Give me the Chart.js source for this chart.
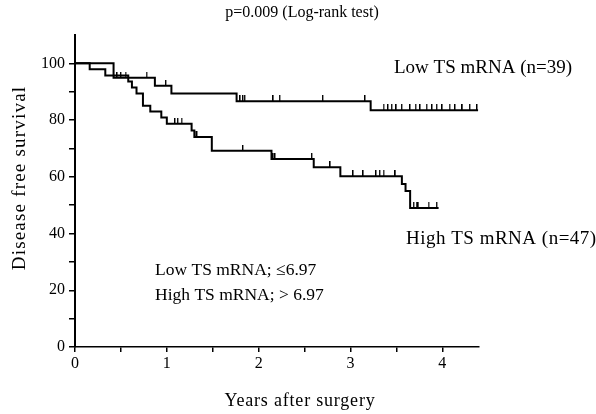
<!DOCTYPE html>
<html>
<head>
<meta charset="utf-8">
<script src="https://cdn.jsdelivr.net/npm/chart.js@4.4.1/dist/chart.umd.min.js"></script>
<style>
  html, body { margin: 0; padding: 0; background: #fff; }
  #wrap { position: relative; width: 596px; height: 414px; }
</style>
</head>
<body>
<div id="wrap"><canvas id="chartDFS" width="596" height="414"></canvas></div>
<script>
// ── DATOS: curvas de Kaplan-Meier (años, % libre de enfermedad) ──
const lowTimes = [0, 0.42, 0.87, 1.05, 1.76, 3.22, 4.39];
const lowSurv = [100, 94.9, 92.1, 89.4, 86.6, 83.5, 83.5];
const lowCensored = [0.46, 0.50, 0.55, 0.78, 0.99, 1.80, 1.83, 1.85, 2.16, 2.23, 2.70, 3.16,
    3.36, 3.41, 3.45, 3.50, 3.56, 3.65, 3.71, 3.76, 3.83, 3.89, 3.94, 4.00, 4.08, 4.14,
    4.22, 4.30, 4.38];

const highTimes = [0, 0.16, 0.33, 0.58, 0.62, 0.67, 0.74, 0.82, 0.94, 1.00, 1.27, 1.30,
    1.49, 2.14, 2.60, 2.89, 3.56, 3.60, 3.65, 3.96];
const highSurv = [100, 97.9, 95.7, 93.6, 91.5, 89.4, 85.1, 83.0, 80.9, 78.7, 76.3, 74.0,
    69.2, 66.3, 63.4, 60.2, 57.5, 55.0, 49.0, 49.0];
const highCensored = [1.09, 1.12, 1.16, 1.31, 1.33, 1.83, 2.16, 2.18, 2.58, 2.78, 3.03, 3.14,
    3.28, 3.32, 3.36, 3.49, 3.69, 3.72, 3.74, 3.85, 3.94];

const yTickValues = [0, 10, 20, 30, 40, 50, 60, 70, 80, 90, 100];
const yTickLabels = [0, 20, 40, 60, 80, 100];
const xTickValues = [0, 0.5, 1, 1.5, 2, 2.5, 3, 3.5, 4];
const xTickLabels = [0, 1, 2, 3, 4];

const FONT = "'Liberation Serif', 'DejaVu Serif', serif";

// valor de la curva escalonada en el tiempo t
function survAt(times, surv, t) {
    let v = surv[0];
    for (let i = 0; i < times.length; i++) {
        if (times[i] <= t) v = surv[i];
    }
    return v;
}

const toPoints = (times, surv) => times.map((t, i) => ({ x: t, y: surv[i] }));
const toCensor = (times, surv, cens) => cens.map(t => ({ x: t, y: survAt(times, surv, t) }));

// marca de censura: trazo vertical hacia arriba
function censorMark() {
    const c = document.createElement("canvas");
    c.width = 2; c.height = 12;
    const g = c.getContext("2d");
    g.fillStyle = "#000";
    g.fillRect(0, 0, 1.4, 6);
    return c;
}
const MARK = censorMark();

// textos sueltos: título, rótulos de ejes y leyendas de grupo
const textos = {
    id: "textos",
    afterDraw(chart) {
        const ctx = chart.ctx;
        ctx.save();
        ctx.fillStyle = "#000";
        ctx.textBaseline = "middle";
        ctx.textAlign = "center";
        ctx.font = "16px " + FONT;
        ctx.fillText("p=0.009 (Log-rank test)", 302, 13);
        ctx.font = "18px " + FONT;
        ctx.letterSpacing = "0.8px";
        ctx.fillText("Years after surgery", 300, 401);

        ctx.textAlign = "left";
        ctx.letterSpacing = "0px";
        ctx.font = "19px " + FONT;
        ctx.fillText("Low TS mRNA (n=39)", 394, 68);
        ctx.letterSpacing = "0.5px";
        ctx.fillText("High TS mRNA (n=47)", 406, 239);
        ctx.letterSpacing = "0px";
        ctx.font = "17.5px " + FONT;
        ctx.fillText("Low TS mRNA; \u22646.97", 155, 270);
        ctx.fillText("High TS mRNA; > 6.97", 155, 295);

        ctx.font = "19px " + FONT;
        ctx.letterSpacing = "1.2px";
        ctx.translate(20, 178);
        ctx.rotate(-Math.PI / 2);
        ctx.textAlign = "center";
        ctx.fillText("Disease free survival", 0, 0);
        ctx.restore();
    }
};

const lineDs = (pts) => ({
    type: "line", data: pts, stepped: true, borderColor: "#000", borderWidth: 2,
    pointRadius: 0, fill: false
});
const censorDs = (pts) => ({
    type: "scatter", data: pts, pointStyle: MARK, pointRadius: 6, showLine: false
});

new Chart(document.getElementById("chartDFS"), {
    type: "line",
    data: {
        datasets: [
            lineDs(toPoints(lowTimes, lowSurv)),
            censorDs(toCensor(lowTimes, lowSurv, lowCensored)),
            lineDs(toPoints(highTimes, highSurv)),
            censorDs(toCensor(highTimes, highSurv, highCensored))
        ]
    },
    options: {
        responsive: false,
        animation: false,
        layout: { padding: { left: 0, right: 117, top: 35, bottom: 37 } },
        plugins: { legend: { display: false }, tooltip: { enabled: false } },
        scales: {
            x: {
                type: "linear", min: 0, max: 4.4,
                afterFit: s => { s.height = 30; },
                afterBuildTicks: s => { s.ticks = xTickValues.map(v => ({ value: v })); },
                ticks: {
                    color: "#000", padding: 2, maxRotation: 0, autoSkip: false,
                    font: { family: FONT, size: 16 },
                    callback: v => xTickLabels.includes(v) ? String(v) : ""
                },
                grid: { drawOnChartArea: false, drawTicks: true, tickLength: 5, color: "#000", lineWidth: 1.5 },
                border: { display: true, color: "#000", width: 1.5 }
            },
            y: {
                type: "linear", min: 0, max: 110,
                afterFit: s => { s.width = 75; },
                afterBuildTicks: s => { s.ticks = yTickValues.map(v => ({ value: v })); },
                ticks: {
                    color: "#000", padding: 4, autoSkip: false,
                    font: { family: FONT, size: 16 },
                    callback: v => yTickLabels.includes(v) ? String(v) : ""
                },
                grid: { drawOnChartArea: false, drawTicks: true, tickLength: 6, color: "#000", lineWidth: 1.5 },
                border: { display: true, color: "#000", width: 2 }
            }
        }
    },
    plugins: [textos]
});
</script>
</body>
</html>
